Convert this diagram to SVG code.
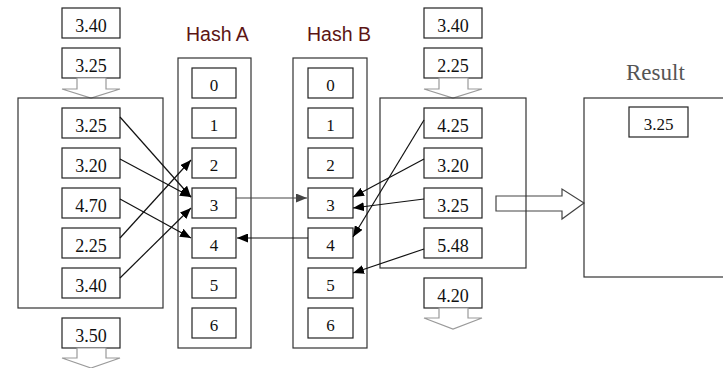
<svg xmlns="http://www.w3.org/2000/svg" width="723" height="368" viewBox="0 0 723 368">
<defs>
<style>
.bx{fill:#fff;stroke:#222;stroke-width:1.2}
.ob{fill:none;stroke:#333;stroke-width:1.2}
.num{font-family:"Liberation Serif","Times New Roman",serif;font-size:18px;fill:#111;text-anchor:middle}
.hn{font-family:"Liberation Serif","Times New Roman",serif;font-size:17px;fill:#111;text-anchor:middle}
.lbl{font-family:"Liberation Sans",Arial,sans-serif;font-size:19.5px;fill:#5c1414}
.res{font-family:"Liberation Serif","Times New Roman",serif;font-size:23px;fill:#555}
.ha{fill:#fff;stroke:#9a9a9a;stroke-width:1.2}
.bigarrow{fill:#fff;stroke:#444;stroke-width:1.2}
.ln{fill:none;stroke:#111;stroke-width:1.2}
.lg{fill:none;stroke:#444;stroke-width:1.2}
</style>
<marker id="ah" markerUnits="userSpaceOnUse" markerWidth="11" markerHeight="9" refX="11" refY="4.5" orient="auto"><path d="M0,0 L11,4.5 L0,9 z" fill="#000"/></marker>
<marker id="ahg" markerUnits="userSpaceOnUse" markerWidth="11" markerHeight="9" refX="11" refY="4.5" orient="auto"><path d="M0,0 L11,4.5 L0,9 z" fill="#444"/></marker>
</defs>
<rect width="723" height="368" fill="#fff"/>

<text class="lbl" x="186" y="41">Hash A</text>
<text class="lbl" x="307" y="41">Hash B</text>
<text class="res" x="626" y="80">Result</text>

<g id="left-input">
<rect class="bx" x="62" y="8" width="58" height="30"/><text class="num" x="91" y="32">3.40</text>
<rect class="bx" x="62" y="48" width="58" height="30"/><text class="num" x="91" y="72">3.25</text>
<polygon class="ha" points="77,78 77,89 62,89 91,98 120,89 106,89 106,78"/>
</g>

<g id="left-table">
<rect class="ob" x="18" y="98" width="145" height="210"/>
<rect class="bx" x="62" y="108" width="58" height="30"/><text class="num" x="91" y="132">3.25</text>
<rect class="bx" x="62" y="148" width="58" height="30"/><text class="num" x="91" y="172">3.20</text>
<rect class="bx" x="62" y="188" width="58" height="30"/><text class="num" x="91" y="212">4.70</text>
<rect class="bx" x="62" y="228" width="58" height="30"/><text class="num" x="91" y="252">2.25</text>
<rect class="bx" x="62" y="268" width="58" height="30"/><text class="num" x="91" y="292">3.40</text>
</g>

<g id="left-output">
<rect class="bx" x="62" y="318" width="58" height="30"/><text class="num" x="91" y="342">3.50</text>
<polygon class="ha" points="77,348 77,358 62,358 91,368 120,358 106,358 106,348"/>
</g>

<g id="hash-a">
<rect class="ob" x="178" y="58" width="73" height="290"/>
<rect class="bx" x="192" y="68" width="44" height="30"/><text class="hn" x="214" y="91">0</text>
<rect class="bx" x="192" y="108" width="44" height="30"/><text class="hn" x="214" y="131">1</text>
<rect class="bx" x="192" y="148" width="44" height="30"/><text class="hn" x="214" y="171">2</text>
<rect class="bx" x="192" y="188" width="44" height="30"/><text class="hn" x="214" y="211">3</text>
<rect class="bx" x="192" y="228" width="44" height="30"/><text class="hn" x="214" y="251">4</text>
<rect class="bx" x="192" y="268" width="44" height="30"/><text class="hn" x="214" y="291">5</text>
<rect class="bx" x="192" y="308" width="44" height="30"/><text class="hn" x="214" y="331">6</text>
</g>

<g id="hash-b">
<rect class="ob" x="293" y="58" width="74" height="290"/>
<rect class="bx" x="308" y="68" width="45" height="30"/><text class="hn" x="330.5" y="91">0</text>
<rect class="bx" x="308" y="108" width="45" height="30"/><text class="hn" x="330.5" y="131">1</text>
<rect class="bx" x="308" y="148" width="45" height="30"/><text class="hn" x="330.5" y="171">2</text>
<rect class="bx" x="308" y="188" width="45" height="30"/><text class="hn" x="330.5" y="211">3</text>
<rect class="bx" x="308" y="228" width="45" height="30"/><text class="hn" x="330.5" y="251">4</text>
<rect class="bx" x="308" y="268" width="45" height="30"/><text class="hn" x="330.5" y="291">5</text>
<rect class="bx" x="308" y="308" width="45" height="30"/><text class="hn" x="330.5" y="331">6</text>
</g>

<g id="right-input">
<rect class="bx" x="424" y="8" width="58" height="30"/><text class="num" x="453" y="32">3.40</text>
<rect class="bx" x="424" y="48" width="58" height="30"/><text class="num" x="453" y="72">2.25</text>
<polygon class="ha" points="439,78 439,89 424,89 453,98 482,89 468,89 468,78"/>
</g>

<g id="big-arrow">
<polygon class="bigarrow" points="496,196 562,196 562,189 584,203 562,219 562,211 496,211"/>
</g>

<g id="right-table">
<rect class="ob" x="380" y="98" width="146" height="170"/>
<rect class="bx" x="424" y="108" width="58" height="30"/><text class="num" x="453" y="132">4.25</text>
<rect class="bx" x="424" y="148" width="58" height="30"/><text class="num" x="453" y="172">3.20</text>
<rect class="bx" x="424" y="188" width="58" height="30"/><text class="num" x="453" y="212">3.25</text>
<rect class="bx" x="424" y="228" width="58" height="30"/><text class="num" x="453" y="252">5.48</text>
</g>

<g id="right-output">
<rect class="bx" x="424" y="278" width="58" height="30"/><text class="num" x="453" y="302">4.20</text>
<polygon class="ha" points="439,308 439,318 424,318 453,329 482,318 468,318 468,308"/>
</g>

<g id="result">
<rect class="ob" x="584" y="98" width="160" height="179"/>
<rect class="bx" x="629" y="107" width="59" height="30"/><text class="hn" x="658.5" y="130">3.25</text>
</g>

<g id="connectors">
<line class="ln" x1="120" y1="117" x2="191" y2="197" marker-end="url(#ah)"/>
<line class="ln" x1="120" y1="159" x2="191" y2="197" marker-end="url(#ah)"/>
<line class="ln" x1="120" y1="199" x2="191" y2="238" marker-end="url(#ah)"/>
<line class="ln" x1="120" y1="238" x2="191" y2="160" marker-end="url(#ah)"/>
<line class="ln" x1="120" y1="278" x2="191" y2="208" marker-end="url(#ah)"/>
<line class="lg" x1="236" y1="198" x2="307" y2="198" marker-end="url(#ahg)"/>
<line class="ln" x1="308" y1="238" x2="237" y2="238" marker-end="url(#ah)"/>
<line class="ln" x1="424" y1="120" x2="353" y2="237" marker-end="url(#ah)"/>
<line class="ln" x1="424" y1="159" x2="353" y2="197" marker-end="url(#ah)"/>
<line class="ln" x1="424" y1="199" x2="353" y2="208" marker-end="url(#ah)"/>
<line class="ln" x1="424" y1="249" x2="353" y2="273" marker-end="url(#ah)"/>
</g>
</svg>
